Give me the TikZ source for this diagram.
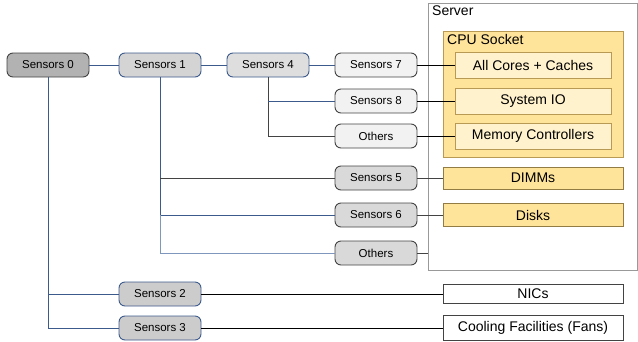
\documentclass[tikz,border=0pt]{standalone}
\usepackage{fontspec}
\setmainfont{Liberation Sans}
\definecolor{bluel}{HTML}{3C5A8C}
\definecolor{bluelite}{HTML}{7F97BD}
\definecolor{darkb}{HTML}{434343}
\definecolor{cpuF}{HTML}{FEE39A}
\definecolor{cpuD}{HTML}{B89A55}
\definecolor{innerF}{HTML}{FFF2CC}
\begin{document}
\begin{tikzpicture}[x=1pt,y=-1pt,
  sens/.style={rounded corners=6pt, minimum width=82pt, minimum height=24pt, inner sep=0pt, line width=0.9pt, font=\fontsize{11.5}{13}\selectfont},
  sdark/.style={sens, draw=darkb},
  sblue/.style={sens, draw=bluel},
  comp/.style={minimum width=180pt, inner sep=0pt, line width=0.9pt, font=\fontsize{14}{16}\selectfont},
  inner/.style={minimum width=156pt, minimum height=26pt, inner sep=0pt, line width=0.9pt, draw=cpuD, fill=innerF, font=\fontsize{14}{16}\selectfont},
  lb/.style={draw=bluel, line width=0.9pt},
  lk/.style={draw=black, line width=0.9pt},
  lg/.style={draw=darkb, line width=0.9pt}]
\useasboundingbox (0,0) rectangle (638,341);
% server and CPU socket
\draw[draw=gray!80, line width=0.9pt] (428,3) rectangle (637,270);
\node[anchor=north west, inner sep=0pt, font=\fontsize{14}{16}\selectfont] (srvlbl) at (432,6) {Server};
\draw[draw=cpuD, fill=cpuF, line width=0.9pt] (443,31) rectangle (623,157);
\node[anchor=north west, inner sep=0pt, font=\fontsize{14}{16}\selectfont] (cpulbl) at (447,34) {CPU Socket};
\node[inner] (cores) at (533,65) {All Cores + Caches};
\node[inner] (sysio) at (533,101) {System IO};
\node[inner] (memc) at (533,136) {Memory Controllers};
\node[comp, draw=cpuD!80!black, fill=cpuF, minimum height=22pt] (dimms) at (533,178) {DIMMs};
\node[comp, draw=cpuD!80!black, fill=cpuF, minimum height=23pt] (disks) at (533,215) {Disks};
\node[comp, draw=darkb, fill=white, minimum height=19pt] (nics) at (533,294) {NICs};
\node[comp, draw=darkb, fill=white, minimum height=25pt] (cool) at (533,328) {Cooling Facilities (Fans)};
\coordinate (srvedge) at (428,253);
% sensors
\node[sdark, fill=black!30] (s0) at (48,65) {Sensors 0};
\node[sblue, fill=black!17] (s1) at (160,65) {Sensors 1};
\node[sblue, fill=black!13] (s4) at (268,65) {Sensors 4};
\node[sdark, fill=black!5] (s7) at (376,65) {Sensors 7};
\node[sdark, fill=black!5] (s8) at (376,101) {Sensors 8};
\node[sdark, fill=black!5] (o1) at (376,136) {Others};
\node[sdark, fill=black!15] (s5) at (376,178) {Sensors 5};
\node[sdark, fill=black!15] (s6) at (376,215) {Sensors 6};
\node[sdark, fill=black!15] (o2) at (376,253) {Others};
\node[sblue, fill=black!20] (s2) at (160,294) {Sensors 2};
\node[sblue, fill=black!20] (s3) at (160,328) {Sensors 3};
% connectors left
\draw[lb] (s0) -- (s1);
\draw[lb] (s1) -- (s4);
\draw[lb] (s4) -- (s7);
\draw[lg] (s4.south) |- (o1);
\draw[lb] (s4.south |- s8) -- (s8);
\draw[lb] (s1.south) |- (s6);
\draw[draw=bluelite, line width=0.9pt] (s1.south |- s6) |- (o2);
\draw[lg] (s1.south |- s5) -- (s5);
\draw[lb] (s0.south) |- (s3);
\draw[lb] (s0.south |- s2) -- (s2);
% connectors right
\draw[lk] (s7) -- (cores);
\draw[lk] (s8) -- (sysio);
\draw[lk] (o1) -- (memc);
\draw[lg] (s5) -- (dimms);
\draw[lg] (s6) -- (disks);
\draw[lg] (o2) -- (srvedge);
\draw[lk] (s2) -- (nics);
\draw[lk] (s3) -- (cool);
\end{tikzpicture}
\end{document}
